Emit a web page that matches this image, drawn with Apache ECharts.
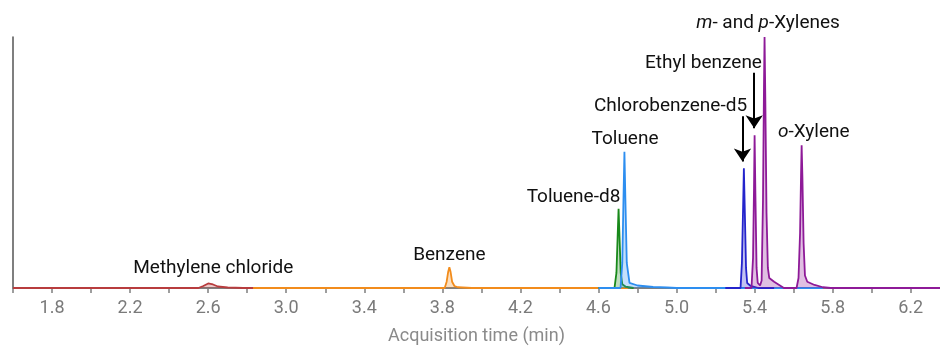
<!DOCTYPE html>
<html>
<head>
<meta charset="utf-8">
<script src="https://cdn.jsdelivr.net/npm/echarts@6/dist/echarts.min.js"></script>
<style>
  html, body { margin: 0; padding: 0; background: #fff; }
  #chart { width: 940px; height: 350px; }
</style>
</head>
<body>
<div id="chart"></div>
<script>
// traces [time (min), relative abundance %]
var methyleneChloride = [[1.6, 0], [2.55, 0], [2.575, 0.8], [2.6, 1.8], [2.625, 1.4], [2.65, 0.6], [2.7, 0.2], [2.78, 0], [2.84, 0]];
var benzene = [[2.83, 0], [3.812, 0], [3.822, 2.5], [3.83, 6.5], [3.836, 8.3], [3.842, 6.5], [3.85, 2.5], [3.862, 0.8], [3.88, 0.3], [3.95, 0], [4.75, 0]];
var tolueneD8 = [[4.6, 0], [4.682, 0], [4.692, 6], [4.698, 20], [4.703, 31.6], [4.708, 20], [4.714, 6], [4.722, 1.5], [4.74, 0.5], [4.78, 0]];
var toluene = [[4.6, 0], [4.713, 0], [4.722, 10], [4.728, 35], [4.733, 54.3], [4.738, 35], [4.745, 10], [4.759, 2], [4.8, 1], [4.88, 0.4], [4.95, 0.2], [5.0, 0], [5.75, 0]];
var chlorobenzeneD5 = [[5.25, 0], [5.328, 0], [5.335, 10], [5.341, 32], [5.345, 47.7], [5.35, 30], [5.356, 8], [5.362, 2], [5.38, 0.8], [5.42, 0], [5.5, 0]];
var xylenes = [[5.35, 0], [5.384, 0], [5.392, 12], [5.397, 40], [5.4, 60.9], [5.404, 38], [5.41, 8], [5.416, 2], [5.428, 1], [5.436, 3], [5.443, 35],
    [5.448, 80], [5.451, 100], [5.455, 75], [5.461, 30], [5.468, 8], [5.475, 4], [5.5, 2.5], [5.53, 1], [5.55, 0], [5.615, 0], [5.625, 4],
    [5.633, 22], [5.638, 45], [5.641, 56.9], [5.645, 44], [5.651, 18], [5.658, 5], [5.67, 2.5], [5.707, 1.2], [5.75, 0.3], [5.79, 0], [6.35, 0]];

var traceNames = ['Methylene chloride', 'Benzene', 'Toluene-d8', 'Toluene', 'Chlorobenzene-d5', 'Xylenes'];
var traceData = [methyleneChloride, benzene, tolueneD8, toluene, chlorobenzeneD5, xylenes];
var traceColors = ['#b83c3e', '#f28c1c', '#18891a', '#2d8ef0', '#2424cc', '#8e1a98'];

// peak labels
var labelTexts = ['Methylene chloride', 'Benzene', 'Toluene-d8', 'Toluene', 'Chlorobenzene-d5', 'Ethyl benzene', '{i|m}- and {i|p}-Xylenes', '{i|o}-Xylene'];
var labelTimes = [2.626, 3.836, 4.472, 4.736, 4.969, 5.138, 5.469, 5.703];
var labelValues = [7.7, 13.0, 36.0, 59.3, 72.5, 89.5, 105.5, 62.0];

// arrows [time, from, to]
var arrows = [[5.338, 68.4, 50.4], [5.398, 85.8, 63.6]];

var chart = echarts.init(document.getElementById('chart'));

var series = [];
for (var i = 0; i < traceData.length; i++) {
    series.push({
        name: traceNames[i],
        type: 'line',
        data: traceData[i],
        symbol: 'none',
        lineStyle: { color: traceColors[i], width: 1.8 },
        areaStyle: { color: traceColors[i], opacity: 0.28 },
        z: 2 + i
    });
}

// labels above the top of the y range are pinned to 100 and shifted up
var markData = [];
for (var i = 0; i < labelTexts.length; i++) {
    var v = labelValues[i], shift = 0;
    if (v > 100) {
        shift = -(v - 100) * 2.53;
        v = 100;
    }
    markData.push({
        coord: [labelTimes[i], v],
        label: { formatter: labelTexts[i], offset: [0, shift] }
    });
}
var lineData = [];
for (var i = 0; i < arrows.length; i++) {
    lineData.push([{ coord: [arrows[i][0], arrows[i][1]] }, { coord: [arrows[i][0], arrows[i][2]] }]);
}
series.push({
    type: 'line',
    data: [],
    silent: true,
    z: 20,
    markPoint: {
        symbol: 'circle',
        symbolSize: 0,
        silent: true,
        label: {
            show: true,
            position: 'inside',
            color: '#111',
            fontFamily: 'Roboto',
            fontSize: 19,
            rich: { i: { fontStyle: 'italic', fontFamily: 'Roboto', fontSize: 19, color: '#111' } }
        },
        data: markData
    },
    markLine: {
        silent: true,
        symbol: ['none', 'arrow'],
        symbolSize: 13,
        label: { show: false },
        lineStyle: { color: '#000', width: 2, type: 'solid' },
        data: lineData
    }
});

chart.setOption({
    animation: false,
    grid: { left: 13, right: 0, top: 37, bottom: 60 },
    xAxis: {
        type: 'value',
        min: 1.6,
        max: 6.35,
        interval: 0.2,
        offset: 8,
        name: 'Acquisition time (min)',
        nameLocation: 'middle',
        nameGap: 31,
        nameTextStyle: { color: '#8a8a8a', fontFamily: 'Roboto', fontSize: 18 },
        axisLine: { lineStyle: { color: '#7f7f7f', width: 2 } },
        axisTick: { show: true, length: 5, lineStyle: { color: '#7f7f7f', width: 1.5 } },
        axisLabel: {
            color: '#7a7a7a',
            fontFamily: 'Roboto',
            fontSize: 18,
            margin: 3,
            showMaxLabel: false,
            formatter: function (v) {
                var k = Math.round((v - 1.8) / 0.2);
                if (k < 0 || k % 2 !== 0 || Math.abs(v - (1.8 + k * 0.2)) > 1e-6) return '';
                return v.toFixed(1);
            }
        },
        splitLine: { show: false }
    },
    yAxis: {
        type: 'value',
        min: 0,
        max: 100,
        axisLine: { show: true, lineStyle: { color: '#555', width: 1.5 } },
        axisTick: { show: false },
        axisLabel: { show: false },
        splitLine: { show: false }
    },
    series: series
});
</script>
</body>
</html>
